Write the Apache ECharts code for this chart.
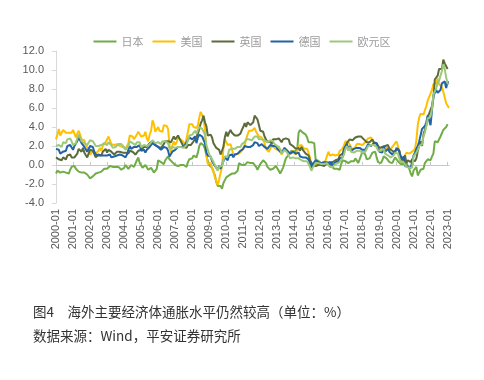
<!DOCTYPE html>
<html><head><meta charset="utf-8">
<script src="https://cdn.jsdelivr.net/npm/echarts@6/dist/echarts.min.js"></script>
<style>html,body{margin:0;padding:0;background:#fff}#c{width:484px;height:380px}</style>
</head><body><div id="c"></div>
<script>
// monthly categories 2000-01 .. 2023-02
var months = [];
for (var y = 2000; y <= 2023; y++) {
  for (var m = 1; m <= 12; m++) {
    if (y === 2023 && m > 2) break;
    months.push(y + '-' + (m < 10 ? '0' + m : m));
  }
}
var seriesNames = ['日本', '美国', '英国', '德国', '欧元区'];
var yTicks = [-4, -2, 0, 2, 4, 6, 8, 10, 12];

var japan = [
-0.9,-0.6,-0.5,-0.8,-0.7,-0.7,-0.5,-0.8,-0.8,-0.9,-0.5,-0.2,
-0.3,-0.1,-0.4,-0.4,-0.7,-0.8,-0.8,-0.7,-0.8,-0.8,-1.0,-1.2,
-1.4,-1.6,-1.2,-1.1,-0.9,-0.7,-0.8,-0.9,-0.7,-0.9,-0.4,-0.3,
-0.4,-0.2,-0.1,-0.1,-0.2,-0.4,-0.2,-0.3,-0.2,0.0,-0.5,-0.4,
-0.3,0.0,-0.1,-0.4,-0.5,0.0,-0.1,-0.2,0.0,0.5,0.8,0.2,
0.1,-0.3,-0.2,0.0,0.2,-0.5,-0.3,-0.3,-0.3,-0.8,-1.0,-0.4,
0.5,0.4,0.3,0.4,0.1,0.5,0.3,0.9,0.6,0.4,0.3,0.3,
0.0,-0.2,-0.1,0.0,0.0,-0.2,0.0,-0.2,-0.2,0.3,0.6,0.7,
0.7,1.0,1.2,0.8,1.3,2.0,2.3,2.1,2.1,1.7,1.0,0.4,
0.0,-0.1,-0.3,-0.1,-1.1,-1.8,-2.2,-2.2,-2.2,-2.5,-1.9,-1.7,
-1.3,-1.1,-1.1,-1.2,-0.9,-0.7,-0.9,-0.9,-0.6,0.2,0.1,0.0,
0.0,0.0,0.0,0.3,0.3,0.2,0.2,0.2,0.0,-0.2,-0.5,-0.2,
0.1,0.3,0.5,0.4,0.2,-0.2,-0.4,-0.5,-0.3,-0.4,-0.2,-0.1,
-0.3,-0.6,-0.9,-0.7,-0.3,0.2,0.7,0.9,1.1,1.1,1.5,1.6,
1.4,1.5,1.6,3.4,3.7,3.6,3.4,3.3,3.2,2.9,2.4,2.4,
2.4,2.2,2.3,0.6,0.5,0.4,0.2,0.2,0.0,0.3,0.3,0.2,
0.0,0.3,-0.1,-0.3,-0.4,-0.4,-0.4,-0.5,-0.5,0.1,0.5,0.3,
0.4,0.3,0.2,0.4,0.4,0.4,0.4,0.7,0.7,0.2,0.6,1.0,
1.4,1.5,1.1,0.6,0.7,0.7,0.9,1.3,1.2,1.4,0.8,0.3,
0.2,0.2,0.5,0.9,0.7,0.7,0.5,0.3,0.2,0.2,0.5,0.8,
0.7,0.4,0.4,0.1,0.1,0.1,0.3,0.2,0.0,-0.4,-0.9,-1.2,
-0.6,-0.5,-0.2,-1.1,-0.8,-0.5,-0.3,-0.4,0.2,0.1,0.6,0.8,
0.5,0.9,1.2,2.5,2.5,2.4,2.6,3.0,3.0,3.7,3.8,4.0,
4.3,null];

var usa = [
2.7,3.2,3.8,3.1,3.2,3.7,3.7,3.4,3.5,3.4,3.4,3.4,
3.7,3.5,2.9,3.3,3.6,3.2,2.7,2.7,2.6,2.1,1.9,1.6,
1.1,1.1,1.5,1.6,1.2,1.1,1.5,1.8,1.5,2.0,2.2,2.4,
2.6,3.0,3.0,2.2,2.1,2.1,2.1,2.2,2.3,2.0,1.8,1.9,
1.9,1.7,1.7,2.3,3.1,3.3,3.0,2.7,2.5,3.2,3.5,3.3,
3.0,3.0,3.1,3.5,2.8,2.5,3.2,3.6,4.7,4.3,3.5,3.4,
4.0,3.6,3.4,3.5,4.2,4.3,4.1,3.8,2.1,1.3,2.0,2.5,
2.1,2.4,2.8,2.6,2.7,2.7,2.4,2.0,2.8,3.5,4.3,4.1,
4.3,4.0,4.0,3.9,4.2,5.0,5.6,5.4,4.9,3.7,1.1,0.1,
0.0,0.2,-0.4,-0.7,-1.3,-1.4,-2.1,-1.5,-1.3,-0.2,1.8,2.7,
2.6,2.1,2.3,2.2,2.0,1.1,1.2,1.1,1.1,1.2,1.1,1.5,
1.6,2.1,2.7,3.2,3.6,3.6,3.6,3.8,3.9,3.5,3.4,3.0,
2.9,2.9,2.7,2.3,1.7,1.7,1.4,1.7,2.0,2.2,1.8,1.7,
1.6,2.0,1.5,1.1,1.4,1.8,2.0,1.5,1.2,1.0,1.2,1.5,
1.6,1.1,1.5,2.0,2.1,2.1,2.0,1.7,1.7,1.7,1.3,0.8,
-0.1,0.0,-0.1,-0.2,0.0,0.1,0.2,0.2,0.0,0.2,0.5,0.7,
1.4,1.0,0.9,1.1,1.0,1.0,0.8,1.1,1.5,1.6,1.7,2.1,
2.5,2.7,2.4,2.2,1.9,1.6,1.7,1.9,2.2,2.0,2.2,2.1,
2.1,2.2,2.4,2.5,2.8,2.9,2.9,2.7,2.3,2.5,2.2,1.9,
1.6,1.5,1.9,2.0,1.8,1.6,1.8,1.7,1.7,1.8,2.1,2.3,
2.5,2.3,1.5,0.3,0.1,0.6,1.0,1.3,1.4,1.2,1.2,1.4,
1.4,1.7,2.6,4.2,5.0,5.4,5.4,5.3,5.4,6.2,6.8,7.0,
7.5,7.9,8.5,8.3,8.6,9.1,8.5,8.3,8.2,7.7,7.1,6.5,
6.4,6.0];

var uk = [
0.8,0.9,0.6,0.6,0.5,0.8,0.9,0.6,1.0,1.0,1.1,0.8,
0.9,0.8,0.9,1.2,1.7,1.7,1.4,1.8,1.3,1.2,0.8,1.0,
1.6,1.5,1.5,1.3,0.8,0.6,1.1,1.0,1.0,1.4,1.5,1.7,
1.3,1.6,1.5,1.4,1.3,1.1,1.3,1.4,1.4,1.4,1.3,1.3,
1.4,1.3,1.1,1.2,1.5,1.6,1.4,1.3,1.1,1.2,1.5,1.7,
1.6,1.7,1.9,1.9,1.9,2.0,2.3,2.4,2.5,2.3,2.1,1.9,
1.9,2.0,1.8,2.0,2.2,2.5,2.4,2.5,2.4,2.4,2.7,3.0,
2.7,2.8,3.1,2.8,2.5,2.4,1.9,1.8,1.8,2.1,2.1,2.1,
2.2,2.5,2.5,3.0,3.3,3.8,4.4,4.7,5.2,4.5,4.1,3.1,
3.0,3.2,2.9,2.3,2.2,1.8,1.8,1.6,1.1,1.5,1.9,2.9,
3.5,3.0,3.4,3.7,3.4,3.2,3.1,3.1,3.1,3.2,3.3,3.7,
4.0,4.4,4.0,4.5,4.5,4.2,4.4,4.5,5.2,5.0,4.8,4.2,
3.6,3.4,3.5,3.0,2.8,2.4,2.6,2.5,2.2,2.7,2.7,2.7,
2.7,2.8,2.8,2.4,2.7,2.9,2.8,2.7,2.7,2.2,2.1,2.0,
1.9,1.7,1.6,1.8,1.5,1.9,1.6,1.5,1.2,1.3,1.0,0.5,
0.3,0.0,0.0,-0.1,0.1,0.0,0.1,0.0,-0.1,-0.1,0.1,0.2,
0.3,0.3,0.5,0.3,0.3,0.5,0.6,0.6,1.0,0.9,1.2,1.6,
1.8,2.3,2.3,2.7,2.9,2.6,2.6,2.9,3.0,3.0,3.1,3.0,
3.0,2.7,2.5,2.4,2.4,2.4,2.5,2.7,2.4,2.4,2.3,2.1,
1.8,1.9,1.9,2.1,2.0,2.0,2.1,1.7,1.7,1.5,1.5,1.3,
1.8,1.7,1.5,0.8,0.5,0.6,1.0,0.2,0.5,0.7,0.3,0.6,
0.7,0.4,0.7,1.5,2.1,2.5,2.0,3.2,3.1,4.2,5.1,5.4,
5.5,6.2,7.0,9.0,9.1,9.4,10.1,9.9,10.1,11.1,10.7,10.5,
10.1,null];

var germany = [
1.7,1.8,1.6,1.2,1.1,1.4,1.6,1.5,2.0,1.9,2.1,1.9,
1.6,2.0,2.1,2.5,2.9,2.6,2.3,2.3,1.9,1.8,1.4,1.5,
2.0,1.8,1.9,1.4,1.1,0.9,1.0,1.0,1.0,1.1,1.0,1.1,
1.0,1.2,1.1,0.8,0.6,0.9,0.9,1.0,1.0,1.1,1.2,1.0,
1.1,0.8,1.1,1.6,2.0,1.7,1.8,1.9,1.7,1.9,1.8,2.1,
1.5,1.6,1.6,1.3,1.6,1.6,1.9,1.8,2.3,2.2,2.1,2.0,
1.9,1.9,1.6,1.8,1.9,1.8,1.8,1.5,0.9,1.1,1.4,1.3,
1.6,1.6,1.9,2.0,1.9,1.9,1.9,1.9,2.4,2.4,2.9,2.7,
2.7,2.8,3.0,2.3,2.9,3.2,3.2,3.0,2.8,2.3,1.3,1.0,
0.8,0.9,0.4,0.6,-0.1,0.0,-0.5,-0.1,-0.4,0.0,0.4,0.8,
0.7,0.5,1.0,0.9,1.1,0.8,1.1,1.0,1.2,1.3,1.5,1.7,
1.7,2.0,2.0,1.9,2.0,1.9,2.1,2.1,2.4,2.3,2.3,2.0,
2.0,2.2,2.0,1.9,1.9,1.7,1.9,2.1,2.1,2.0,1.9,2.0,
1.7,1.5,1.4,1.2,1.5,1.8,1.9,1.5,1.4,1.2,1.3,1.4,
1.3,1.2,1.0,1.3,0.9,1.0,0.8,0.8,0.8,0.8,0.6,0.2,
-0.3,0.1,0.3,0.5,0.7,0.3,0.2,0.2,0.0,0.3,0.4,0.3,
0.5,0.0,0.3,-0.1,0.1,0.3,0.4,0.4,0.7,0.8,0.8,1.7,
1.9,2.2,1.6,2.0,1.5,1.6,1.7,1.8,1.8,1.6,1.8,1.7,
1.6,1.4,1.6,1.6,2.2,2.1,2.0,2.0,2.3,2.5,2.3,1.7,
1.4,1.5,1.3,2.0,1.4,1.6,1.7,1.4,1.2,1.1,1.1,1.5,
1.7,1.7,1.4,0.9,0.6,0.9,-0.1,0.0,-0.2,-0.2,-0.3,-0.3,
1.0,1.3,1.7,2.0,2.5,2.3,3.8,3.9,4.1,4.5,5.2,5.3,
4.2,4.3,7.3,7.4,7.9,7.6,7.5,7.9,8.6,8.8,8.8,8.1,
8.7,8.7];

var euro = [
2.0,2.1,2.1,1.9,1.9,2.4,2.2,2.3,2.7,2.6,2.8,2.5,
2.1,2.2,2.3,2.8,3.2,2.9,2.5,2.4,2.3,2.3,2.1,2.1,
2.6,2.4,2.5,2.4,2.0,1.9,2.0,2.1,2.1,2.3,2.3,2.3,
2.1,2.4,2.5,2.1,1.8,1.9,1.9,2.1,2.2,2.0,2.2,2.0,
1.9,1.6,1.7,2.0,2.5,2.4,2.3,2.3,2.1,2.4,2.2,2.4,
1.9,2.1,2.1,2.1,2.0,2.1,2.2,2.2,2.6,2.5,2.3,2.2,
2.4,2.3,2.2,2.5,2.5,2.5,2.4,2.3,1.7,1.6,1.9,1.9,
1.8,1.8,1.9,1.9,1.9,1.9,1.8,1.7,2.1,2.6,3.1,3.1,
3.2,3.3,3.6,3.3,3.7,4.0,4.0,3.8,3.6,3.2,2.1,1.6,
1.1,1.2,0.6,0.6,0.0,-0.1,-0.6,-0.2,-0.3,-0.1,0.5,0.9,
1.0,0.9,1.6,1.6,1.7,1.5,1.7,1.6,1.9,2.0,1.9,2.2,
2.3,2.4,2.7,2.8,2.7,2.7,2.6,2.6,3.0,3.0,3.0,2.7,
2.7,2.7,2.7,2.6,2.4,2.4,2.4,2.6,2.6,2.5,2.2,2.2,
2.0,1.8,1.7,1.2,1.4,1.6,1.6,1.3,1.1,0.7,0.9,0.8,
0.8,0.7,0.5,0.7,0.5,0.5,0.4,0.4,0.3,0.4,0.3,-0.2,
-0.6,-0.3,-0.1,0.2,0.3,0.2,0.2,0.1,-0.1,0.1,0.1,0.2,
0.3,-0.2,0.0,-0.2,-0.1,0.1,0.2,0.2,0.4,0.5,0.6,1.1,
1.7,2.0,1.5,1.9,1.4,1.3,1.3,1.5,1.5,1.4,1.5,1.3,
1.3,1.1,1.4,1.2,2.0,2.0,2.1,2.1,2.1,2.3,1.9,1.5,
1.4,1.5,1.4,1.7,1.2,1.3,1.0,1.0,0.8,0.7,1.0,1.3,
1.4,1.2,0.7,0.3,0.1,0.3,0.4,-0.2,-0.3,-0.3,-0.3,-0.3,
0.9,0.9,1.3,1.6,2.0,1.9,2.2,3.0,3.4,4.1,4.9,5.0,
5.1,5.9,7.4,7.4,8.1,8.6,8.9,9.1,9.9,10.6,10.1,9.2,
8.6,8.5];

var seriesData = [japan, usa, uk, germany, euro];
var colors = ['#70AD47', '#FFC000', '#5B6B3A', '#2263A6', '#9DC87A'];

var chart = echarts.init(document.getElementById('c'), null, {renderer: 'canvas'});
var font = 'Arial, "Liberation Sans", sans-serif';
chart.setOption({
  backgroundColor: '#fff',
  animation: false,
  color: colors,
  legend: {
    top: 31, left: 'center',
    icon: 'rect', itemWidth: 23, itemHeight: 2, itemGap: 9,
    textStyle: {color: '#9a9a9a', fontSize: 11, fontFamily: '"Noto Sans CJK SC", sans-serif'},
    data: seriesNames
  },
  grid: {left: 56, right: 35, top: 51, bottom: 177, containLabel: false},
  xAxis: [{
    type: 'category', data: months, boundaryGap: false,
    axisLine: {show: false, onZero: false},
    axisTick: {show: false},
    axisLabel: {interval: 11, rotate: 90, margin: 6, fontSize: 11, color: '#595959', fontFamily: font},
    splitLine: {show: false}
  }, {
    type: 'category', data: months, boundaryGap: false, position: 'top',
    axisLine: {show: true, onZero: true, lineStyle: {color: '#c8c8c8', width: 1}},
    axisTick: {show: true, interval: 11, length: 3, lineStyle: {color: '#c8c8c8'}},
    axisLabel: {show: false},
    splitLine: {show: false}
  }],
  yAxis: {
    type: 'value', min: yTicks[0], max: yTicks[yTicks.length - 1], interval: 2,
    axisLine: {show: true, lineStyle: {color: '#d9d9d9'}},
    axisTick: {show: true, length: 4, lineStyle: {color: '#d9d9d9'}},
    axisLabel: {margin: 12, fontSize: 11, color: '#595959', fontFamily: font,
      formatter: function (v) { return v.toFixed(1); }},
    splitLine: {show: false}
  },
  series: seriesNames.map(function (n, i) {
    return {
      name: n, type: 'line', data: seriesData[i], xAxisIndex: 0,
      symbol: 'none', showSymbol: false, connectNulls: false,
      lineStyle: {width: 2, color: colors[i]}, itemStyle: {color: colors[i]}
    };
  }),
  graphic: [
    {type: 'text', left: 33, top: 305, style: {text: '图4　海外主要经济体通胀水平仍然较高（单位：%）', fill: '#333', fontSize: 13.5, fontFamily: '"Noto Sans CJK SC", sans-serif'}},
    {type: 'text', left: 33, top: 329, style: {text: '数据来源：Wind，平安证券研究所', fill: '#333', fontSize: 13.5, fontFamily: '"Noto Sans CJK SC", sans-serif'}}
  ]
});
</script>
</body></html>
